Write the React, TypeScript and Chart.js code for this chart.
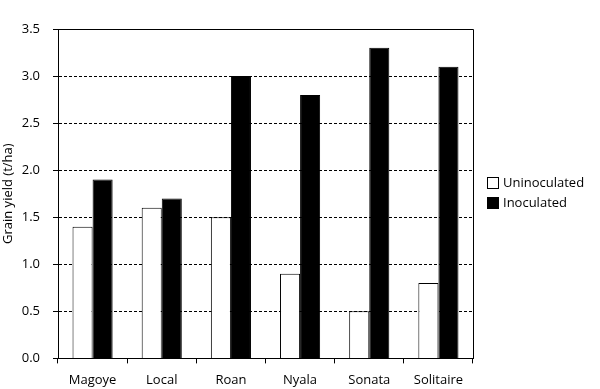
import React, { useEffect, useRef } from "react";
import { Chart, registerables } from "chart.js";

Chart.register(...registerables);

const categories = ["Magoye", "Local", "Roan", "Nyala", "Sonata", "Solitaire"];
const uninoculated = [1.4, 1.6, 1.5, 0.9, 0.5, 0.8];
const inoculated = [1.9, 1.7, 3.0, 2.8, 3.3, 3.1];
const seriesNames = ["Uninoculated", "Inoculated"];
const yAxisTitle = "Grain yield (t/ha)";

const FONT = "'Open Sans', 'Noto Sans', sans-serif";

const frameBorder = {
  id: "frameBorder",
  afterDatasetsDraw(chart: any) {
    const { ctx, chartArea } = chart;
    ctx.save();
    ctx.strokeStyle = "#000";
    ctx.lineWidth = 1;
    ctx.setLineDash([]);
    ctx.beginPath();
    ctx.moveTo(chartArea.left, Math.round(chartArea.top) + 0.5);
    ctx.lineTo(Math.round(chartArea.right) + 0.5, Math.round(chartArea.top) + 0.5);
    ctx.lineTo(Math.round(chartArea.right) + 0.5, chartArea.bottom);
    ctx.stroke();
    ctx.restore();
  },
};

const sideLegend = {
  id: "sideLegend",
  afterDraw(chart: any) {
    const { ctx, chartArea } = chart;
    const x = Math.round(chartArea.right) + 14;
    const yStart = 177;
    const step = 20;
    ctx.save();
    ctx.font = `13px ${FONT}`;
    ctx.textBaseline = "middle";
    ctx.textAlign = "left";
    chart.data.datasets.forEach((ds: any, i: number) => {
      const y = yStart + i * step;
      ctx.fillStyle = ds.backgroundColor;
      ctx.fillRect(x, y, 12, 12);
      ctx.strokeStyle = ds.borderColor;
      ctx.lineWidth = 1;
      ctx.strokeRect(x + 0.5, y + 0.5, 11, 11);
      ctx.fillStyle = "#000";
      ctx.fillText(ds.label, x + 16, y + 6.5);
    });
    ctx.restore();
  },
};

export default function App() {
  const ref = useRef<HTMLCanvasElement>(null);
  useEffect(() => {
    if (!ref.current) return;
    const chart = new Chart(ref.current, {
      type: "bar",
      data: {
        labels: categories,
        datasets: [
          {
            label: seriesNames[0],
            data: uninoculated,
            backgroundColor: "#ffffff",
            borderColor: "#000000",
            borderWidth: 1,
          },
          {
            label: seriesNames[1],
            data: inoculated,
            backgroundColor: "#000000",
            borderColor: "#000000",
            borderWidth: 1,
          },
        ],
      },
      options: {
        responsive: false,
        animation: false,
        devicePixelRatio: 1,
        layout: { padding: { top: 29, left: 0, right: 127, bottom: -8 } },
        datasets: { bar: { categoryPercentage: 0.58, barPercentage: 1.0 } },
        plugins: {
          tooltip: { enabled: false },
          legend: { display: false },
        },
        scales: {
          x: {
            grid: {
              offset: true,
              drawOnChartArea: false,
              drawTicks: true,
              tickLength: 5,
              tickColor: "#000",
              color: "#000",
            },
            border: { display: true, color: "#000", width: 1 },
            ticks: {
              color: "#000",
              padding: 9,
              font: { family: FONT, size: 13 },
              maxRotation: 0,
            },
          },
          y: {
            min: 0,
            max: 3.5,
            afterFit: (scale: any) => {
              scale.width = 58;
            },
            ticks: {
              stepSize: 0.5,
              color: "#000",
              padding: 13,
              font: { family: FONT, size: 13 },
              callback: (v: any) => Number(v).toFixed(1),
            },
            grid: {
              drawOnChartArea: true,
              drawTicks: true,
              tickLength: 5,
              tickColor: "#000",
              tickBorderDash: [],
              lineWidth: 1,
              color: (ctx: any) => {
                const v = ctx.tick ? ctx.tick.value : null;
                return v === 0 || v === 3.5 ? "rgba(0,0,0,0)" : "#000";
              },
            },
            border: { display: true, color: "#000", width: 1, dash: [3, 2] },
            title: {
              display: true,
              text: yAxisTitle,
              color: "#000",
              font: { family: FONT, size: 13 },
              padding: { top: 0, bottom: 0 },
            },
          },
        },
      },
      plugins: [frameBorder, sideLegend],
    });
    return () => chart.destroy();
  }, []);
  return (
    <div style={{ position: "fixed", left: 0, top: 0, width: 600, height: 389, background: "#fff" }}>
      <canvas ref={ref} width={600} height={389} />
    </div>
  );
}
